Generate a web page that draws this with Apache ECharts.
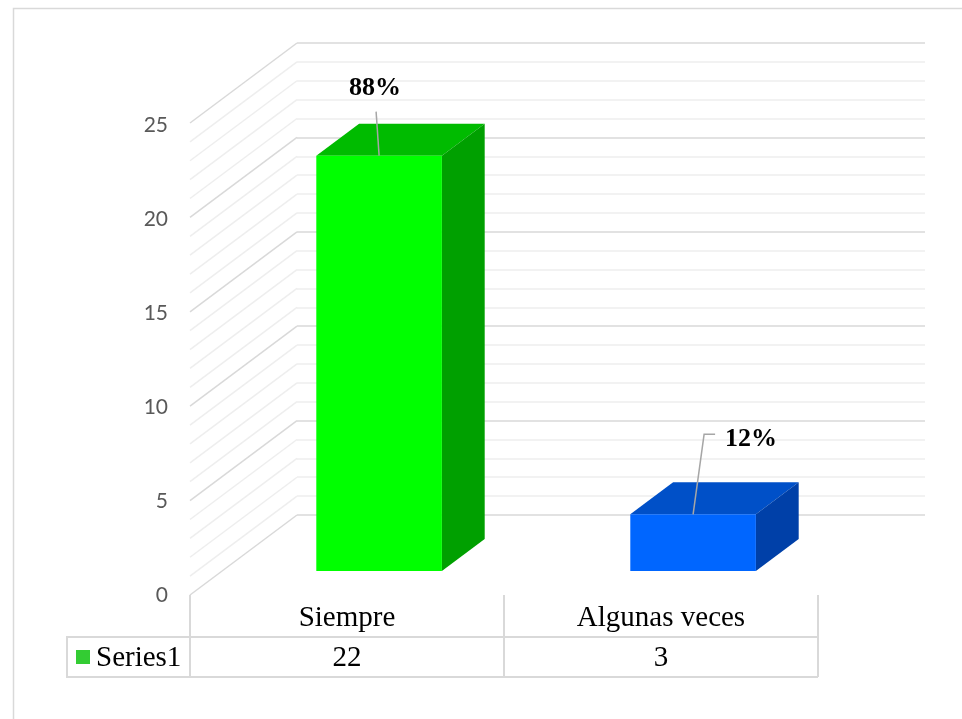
<!DOCTYPE html>
<html>
<head>
<meta charset="utf-8">
<script src="https://cdn.jsdelivr.net/npm/echarts@6/dist/echarts.min.js"></script>
<style>
html,body{margin:0;padding:0;background:#fff;}
#chart{width:962px;height:719px;}
</style>
</head>
<body>
<div id="chart"></div>
<script>
// ---- data ----
const categories = ['Siempre', 'Algunas veces'];
const values = [22, 3];
const percentLabels = ['88%', '12%'];
const seriesName = 'Series1';
const yMin = 0, yMax = 25, yInterval = 5, yMinorSplit = 5;

// ---- style ----
const frontColors = ['#00ff00', '#0066ff'];
const topColors = ['#00bb00', '#0050c8'];
const sideColors = ['#00a000', '#0040a8'];
const legendKeyColor = '#33cc33';
const depth = [-107, 80];          // back wall -> front edge
const barFront = 0.7, barBack = 0.3, barWidthRatio = 0.4;
const labelOffsets = [[-4, -67], [58, -75]];
const leaderPoints = [[[0, 0], [-3, -44]], [[0, 0], [11, -80], [22, -80]]];
const tableLine = '#d9d9d9';

// wall levels derived from axis scale
const wallLevels = [];
for (let v = yMin; v <= yMax; v += yInterval / yMinorSplit) wallLevels.push([0, v]);

const chart = echarts.init(document.getElementById('chart'), null, {renderer: 'canvas'});

const option = {
  animation: false,
  backgroundColor: '#fff',
  graphic: [{
    type: 'rect', left: 11, top: 6, silent: true,
    shape: {width: 1000, height: 800},
    style: {fill: 'none', stroke: '#d9d9d9', lineWidth: 1.5}
  }],
  grid: [
    {left: 297, right: 37, top: 43, bottom: 204},
    {left: 190, right: 144, top: 125, bottom: 124}
  ],
  xAxis: [
    {gridIndex: 0, type: 'category', data: categories, show: false},
    {gridIndex: 1, type: 'category', data: categories,
     axisLine: {show: false},
     axisTick: {show: true, length: 82, lineStyle: {color: tableLine, width: 2}},
     axisLabel: {fontFamily: 'Liberation Serif', fontSize: 29, color: '#000', margin: 9}}
  ],
  yAxis: [
    {gridIndex: 0, type: 'value', min: yMin, max: yMax, interval: yInterval,
     axisLabel: {show: false}, axisLine: {show: false}, axisTick: {show: false},
     splitLine: {show: true, lineStyle: {color: '#d9d9d9', width: 1.5}},
     minorTick: {show: false, splitNumber: yMinorSplit},
     minorSplitLine: {show: true, lineStyle: {color: '#eeeeee', width: 1.5}}},
    {gridIndex: 1, type: 'value', min: yMin, max: yMax, interval: yInterval,
     axisLabel: {color: '#595959', fontFamily: 'Lato', fontSize: 21, margin: 22},
     axisLine: {show: false}, axisTick: {show: false}, splitLine: {show: false}}
  ],
  series: [
    { // left side wall lines
      type: 'custom', xAxisIndex: 0, yAxisIndex: 0, clip: false, silent: true, z: 1,
      data: wallLevels,
      renderItem: function (params, api) {
        const v = api.value(1);
        const p = api.coord([0, v]);
        const band = api.size([1, 0])[0];
        const x = p[0] - band / 2;
        const major = Math.abs(v / yInterval - Math.round(v / yInterval)) < 1e-6;
        return {
          type: 'line',
          shape: {x1: x, y1: p[1], x2: x + depth[0], y2: p[1] + depth[1]},
          style: {stroke: major ? '#d9d9d9' : '#eeeeee', lineWidth: 1.5}
        };
      }
    },
    { // 3D bars
      type: 'custom', name: seriesName, xAxisIndex: 0, yAxisIndex: 0, clip: false, z: 5,
      data: values.map((v, i) => [i, v]),
      renderItem: function (params, api) {
        const i = params.dataIndex;
        const top = api.coord([api.value(0), api.value(1)]);
        const base = api.coord([api.value(0), 0]);
        const band = api.size([1, 0])[0];
        const hw = band * barWidthRatio / 2;
        const F = [depth[0] * barFront, depth[1] * barFront];
        const B = [depth[0] * barBack, depth[1] * barBack];
        const xl = top[0] - hw, xr = top[0] + hw;
        const yt = top[1], yb = base[1];
        const fTopCx = top[0] + F[0], fTopCy = yt + F[1];
        const children = [
          {type: 'polygon', shape: {points: [[xl + F[0], yt + F[1]], [xr + F[0], yt + F[1]], [xr + B[0], yt + B[1]], [xl + B[0], yt + B[1]]]},
           style: {fill: topColors[i]}},
          {type: 'polygon', shape: {points: [[xr + F[0], yt + F[1]], [xr + B[0], yt + B[1]], [xr + B[0], yb + B[1]], [xr + F[0], yb + F[1]]]},
           style: {fill: sideColors[i]}},
          {type: 'rect', shape: {x: xl + F[0], y: yt + F[1], width: xr - xl, height: yb - yt},
           style: {fill: frontColors[i]}},
          {type: 'polyline', shape: {points: leaderPoints[i].map(p => [fTopCx + p[0], fTopCy + p[1]])},
           style: {stroke: '#a6a6a6', lineWidth: 1.5, fill: 'none'}, z2: 10},
          {type: 'text', x: fTopCx + labelOffsets[i][0], y: fTopCy + labelOffsets[i][1],
           style: {text: percentLabels[i], fontFamily: 'Liberation Serif', fontWeight: 'bold', fontSize: 26,
                   fill: '#000', align: 'center', verticalAlign: 'middle'}, z2: 11}
        ];
        return {type: 'group', children: children};
      }
    },
    { // data table
      type: 'custom', xAxisIndex: 1, yAxisIndex: 1, clip: false, silent: true, z: 3,
      data: values.map((v, i) => [i, v]),
      renderItem: function (params, api) {
        const i = params.dataIndex;
        const p = api.coord([api.value(0), 0]);
        const band = api.size([1, 0])[0];
        const x0 = p[0] - band / 2, x1 = p[0] + band / 2;
        const yTop = p[1] + 42, yBot = p[1] + 82;
        const children = [
          {type: 'line', shape: {x1: x0, y1: yTop, x2: x1, y2: yTop}, style: {stroke: tableLine, lineWidth: 2}},
          {type: 'line', shape: {x1: x0, y1: yBot, x2: x1, y2: yBot}, style: {stroke: tableLine, lineWidth: 2}},
          {type: 'text', x: p[0], y: (yTop + yBot) / 2 + 1,
           style: {text: String(api.value(1)), fontFamily: 'Liberation Serif', fontSize: 29, fill: '#000',
                   align: 'center', verticalAlign: 'middle'}}
        ];
        if (i === 0) {
          const lx = x0 - 123;
          children.push(
            {type: 'rect', shape: {x: lx, y: yTop, width: 123, height: yBot - yTop},
             style: {fill: 'none', stroke: tableLine, lineWidth: 2}},
            {type: 'rect', shape: {x: lx + 9, y: yTop + 13, width: 14, height: 14}, style: {fill: legendKeyColor}},
            {type: 'text', x: lx + 29, y: (yTop + yBot) / 2 + 1,
             style: {text: seriesName, fontFamily: 'Liberation Serif', fontSize: 29, fill: '#000',
                     align: 'left', verticalAlign: 'middle'}}
          );
        }
        return {type: 'group', children: children};
      }
    }
  ]
};
chart.setOption(option);
</script>
</body>
</html>
